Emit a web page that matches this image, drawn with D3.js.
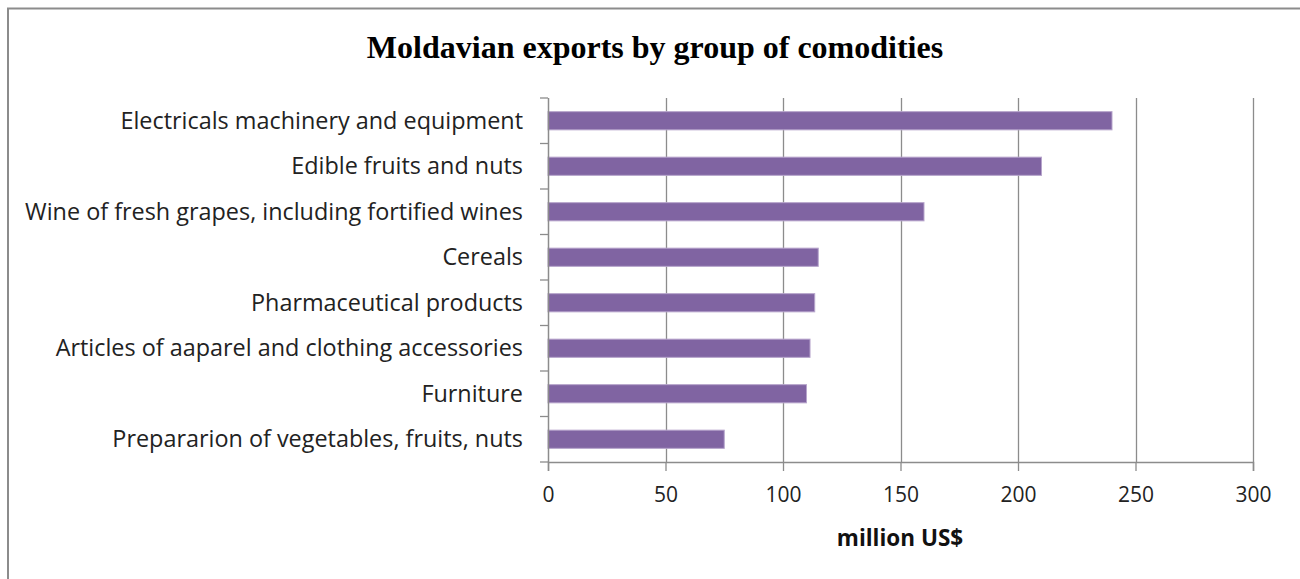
<!DOCTYPE html>
<html>
<head>
<meta charset="utf-8">
<script src="https://cdn.jsdelivr.net/npm/d3@7"></script>
<style>
  body { margin: 0; background: #fff; }
  svg { display: block; }
</style>
</head>
<body>
<svg width="1300" height="579"></svg>
<script>
'use strict';

// data
var categories = [
  "Electricals machinery and equipment",
  "Edible fruits and nuts",
  "Wine of fresh grapes, including fortified wines",
  "Cereals",
  "Pharmaceutical products",
  "Articles of aaparel and clothing accessories",
  "Furniture",
  "Prepararion of vegetables, fruits, nuts"
];
var values = [240, 210, 160, 115, 113.5, 111.5, 110, 75];
var xTicks = [0, 50, 100, 150, 200, 250, 300];

var svg = d3.select("svg");
var margin = {top: 98, left: 548, right: 47, bottom: 117};
var width = 1300 - margin.left - margin.right;   // 705
var height = 579 - margin.top - margin.bottom;   // 364

// outer frame (right and bottom run off the picture)
svg.append("path")
    .attr("d", "M8,580 V8.5 H1301")
    .attr("fill", "none")
    .attr("stroke", "#8c8c8c")
    .attr("stroke-width", 2);

svg.append("text")
    .attr("x", 655)
    .attr("y", 58)
    .attr("text-anchor", "middle")
    .attr("font-family", "Liberation Serif, serif")
    .attr("font-weight", "bold")
    .attr("font-size", 32)
    .attr("fill", "#000")
    .text("Moldavian exports by group of comodities");

var g = svg.append("g")
    .attr("transform", "translate(" + margin.left + "," + margin.top + ")");

var x = d3.scaleLinear().domain([0, 300]).range([0, width]);
var y = d3.scaleBand().domain(categories).range([0, height]).paddingInner(0.6).paddingOuter(0.3);

// vertical gridlines
g.selectAll(".grid")
    .data(xTicks.slice(1))
    .enter().append("line")
    .attr("class", "grid")
    .attr("x1", function(d) { return Math.round(x(d)) + 0.5; })
    .attr("x2", function(d) { return Math.round(x(d)) + 0.5; })
    .attr("y1", 0)
    .attr("y2", height)
    .attr("stroke", "#8c8c8c")
    .attr("stroke-width", 1.3);

// bars
g.selectAll(".bar")
    .data(values)
    .enter().append("rect")
    .attr("class", "bar")
    .attr("x", x(0))
    .attr("y", function(d, i) { return y(categories[i]); })
    .attr("width", function(d) { return x(d) - x(0); })
    .attr("height", y.bandwidth())
    .attr("fill", "#8064a2")
    .attr("stroke", "#b7a5cc")
    .attr("stroke-width", 1);

// x axis
var xAxis = d3.axisBottom(x).tickValues(xTicks).tickSize(9).tickPadding(16);
var xg = g.append("g")
    .attr("transform", "translate(0," + height + ")")
    .call(xAxis);
xg.select(".domain").attr("stroke", "#8c8c8c").attr("stroke-width", 1.5);
xg.selectAll(".tick line").attr("stroke", "#8c8c8c").attr("stroke-width", 1.3);
xg.selectAll(".tick text")
    .attr("font-family", "Open Sans, sans-serif")
    .attr("font-size", 21)
    .attr("fill", "#222");

// y axis: ticks on band boundaries, labels in band centres
var step = height / categories.length;
var yTickPos = d3.range(categories.length + 1).map(function(i) { return i * step; });
g.append("line")
    .attr("x1", 0.5).attr("x2", 0.5)
    .attr("y1", 0).attr("y2", height)
    .attr("stroke", "#8c8c8c")
    .attr("stroke-width", 1.5);
g.selectAll(".ytick")
    .data(yTickPos)
    .enter().append("line")
    .attr("class", "ytick")
    .attr("x1", -8).attr("x2", 0)
    .attr("y1", function(d) { return d; })
    .attr("y2", function(d) { return d; })
    .attr("stroke", "#8c8c8c")
    .attr("stroke-width", 1.3);

g.selectAll(".ylabel")
    .data(categories)
    .enter().append("text")
    .attr("class", "ylabel")
    .attr("x", -25)
    .attr("y", function(d) { return y(d) + y.bandwidth() / 2; })
    .attr("dy", "0.35em")
    .attr("text-anchor", "end")
    .attr("font-family", "Open Sans, sans-serif")
    .attr("font-size", 23.4)
    .attr("fill", "#222")
    .text(function(d) { return d; });

// axis title
svg.append("text")
    .attr("x", 900)
    .attr("y", 546)
    .attr("text-anchor", "middle")
    .attr("font-family", "Open Sans, sans-serif")
    .attr("font-weight", "bold")
    .attr("font-size", 22.5)
    .attr("fill", "#111")
    .text("million US$");
</script>
</body>
</html>
